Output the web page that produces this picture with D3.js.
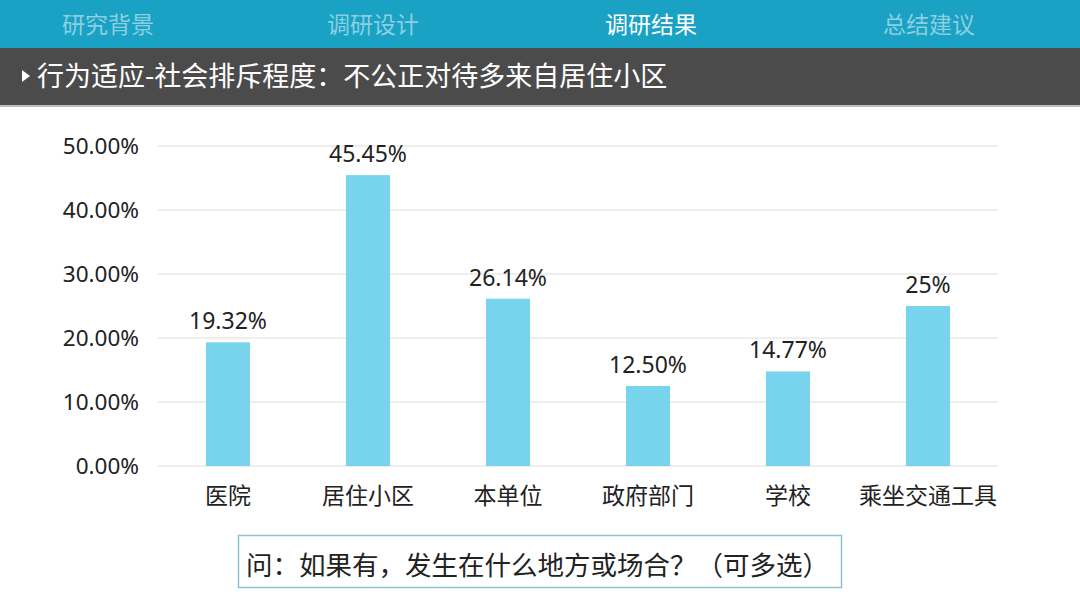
<!DOCTYPE html>
<html>
<head>
<meta charset="utf-8">
<script src="https://cdn.jsdelivr.net/npm/d3@7"></script>
<style>
  html, body { margin: 0; padding: 0; background: #fff; }
  svg { display: block; font-family: "Noto Sans CJK SC", "Noto Sans", sans-serif; }
</style>
</head>
<body>
<div id="chart"></div>
<script>
const navItems = ["研究背景", "调研设计", "调研结果", "总结建议"];
const activeNav = 2;
const title = "行为适应-社会排斥程度：不公正对待多来自居住小区";
const question = "问：如果有，发生在什么地方或场合？（可多选）";

const categories = ["医院", "居住小区", "本单位", "政府部门", "学校", "乘坐交通工具"];
const values = [19.32, 45.45, 26.14, 12.5, 14.77, 25];
const valueLabels = ["19.32%", "45.45%", "26.14%", "12.50%", "14.77%", "25%"];
const yTicks = [0, 10, 20, 30, 40, 50];

const W = 1080, H = 608;
const svg = d3.select("#chart").append("svg").attr("width", W).attr("height", H);

// header bars
svg.append("rect").attr("x", 0).attr("y", 0).attr("width", W).attr("height", 48).attr("fill", "#19a2c4");
svg.append("rect").attr("x", 0).attr("y", 48).attr("width", W).attr("height", 57).attr("fill", "#4b4b4b");
svg.append("rect").attr("x", 0).attr("y", 105).attr("width", W).attr("height", 2).attr("fill", "#bdbdbd");

const navX = [108, 373, 651, 929];
svg.selectAll(".nav")
  .data(navItems)
  .enter().append("text")
  .attr("x", (d, i) => navX[i])
  .attr("y", 33)
  .attr("text-anchor", "middle")
  .attr("font-size", 23)
  .attr("fill", (d, i) => i === activeNav ? "#ffffff" : "#8ccfe0")
  .text(d => d);

svg.append("path").attr("d", "M22,70 L30,76 L22,82 Z").attr("fill", "#ffffff");
svg.append("text")
  .attr("x", 37).attr("y", 86)
  .attr("font-size", 27)
  .attr("fill", "#ffffff")
  .text(title);

// chart
const plotLeft = 158, plotRight = 998, plotTop = 146, plotBottom = 466;
const x = d3.scaleBand().domain(categories).range([plotLeft, plotRight]).paddingInner(0.686).paddingOuter(0.343);
const y = d3.scaleLinear().domain([0, 50]).range([plotBottom, plotTop]);

const g = svg.append("g");

g.selectAll(".grid")
  .data(yTicks)
  .enter().append("line")
  .attr("x1", plotLeft).attr("x2", plotRight)
  .attr("y1", d => y(d)).attr("y2", d => y(d))
  .attr("stroke", "#dedede").attr("stroke-width", 1);

const yAxis = g.append("g")
  .attr("transform", "translate(" + (plotLeft - 16) + ",0)")
  .call(d3.axisLeft(y).tickValues(yTicks).tickSize(0).tickFormat(d => d.toFixed(2) + "%"));
yAxis.select(".domain").remove();
yAxis.selectAll("text").attr("font-size", 22.5).attr("fill", "#222").attr("font-family", "\"Noto Sans\", sans-serif").attr("dy", "0.35em");

g.selectAll(".bar")
  .data(values)
  .enter().append("rect")
  .attr("x", (d, i) => x(categories[i]))
  .attr("y", d => y(d))
  .attr("width", x.bandwidth())
  .attr("height", d => y(0) - y(d))
  .attr("fill", "#78d3ec");

g.selectAll(".vlabel")
  .data(values)
  .enter().append("text")
  .attr("x", (d, i) => x(categories[i]) + x.bandwidth() / 2)
  .attr("y", d => y(d) - 13)
  .attr("text-anchor", "middle")
  .attr("font-size", 23)
  .attr("font-family", "\"Noto Sans\", sans-serif")
  .attr("fill", "#222")
  .text((d, i) => valueLabels[i]);

const xAxis = g.append("g")
  .attr("transform", "translate(0," + plotBottom + ")")
  .call(d3.axisBottom(x).tickSize(0));
xAxis.select(".domain").remove();
xAxis.selectAll("text").attr("font-size", 23).attr("fill", "#222").attr("dy", "1.5em")
  .attr("font-family", "\"Noto Sans CJK SC\", sans-serif");

// question box
svg.append("rect")
  .attr("x", 238.5).attr("y", 535.5).attr("width", 603).attr("height", 52)
  .attr("fill", "none").attr("stroke", "#8cc4d2").attr("stroke-width", 1.5);
svg.append("text")
  .attr("x", 246).attr("y", 575)
  .attr("font-size", 26.5)
  .attr("fill", "#222")
  .text(question);
</script>
</body>
</html>
